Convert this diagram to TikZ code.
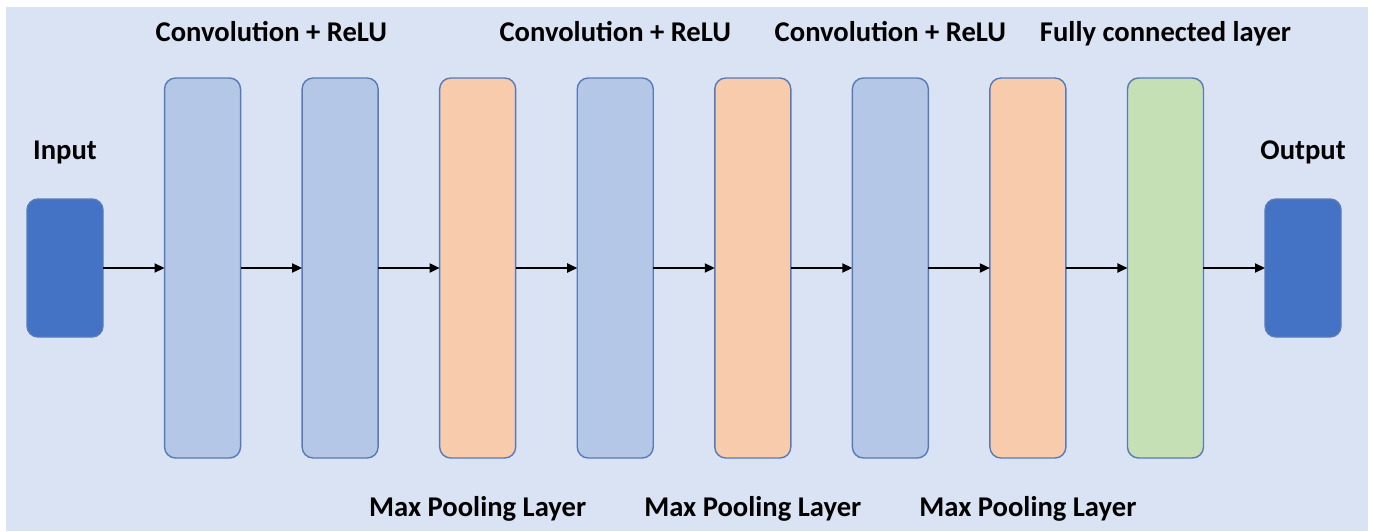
\documentclass[tikz,border=0pt]{standalone}
\usepackage{fontspec}
\setmainfont{Carlito}
\usetikzlibrary{arrows.meta,positioning,calc}
\definecolor{panelbg}{RGB}{218,227,243}
\definecolor{convfill}{RGB}{180,199,231}
\definecolor{poolfill}{RGB}{248,203,173}
\definecolor{fcfill}{RGB}{197,224,180}
\definecolor{iofill}{RGB}{68,114,196}
\definecolor{boxline}{RGB}{88,122,184}

\begin{document}
\begin{tikzpicture}[x=0.5pt, y=-0.5pt,
      font=\fontsize{14.3}{17}\selectfont\bfseries,
      layer/.style={rectangle, rounded corners=5.5pt, draw=boxline, line width=0.7pt,
                    minimum width=38pt, minimum height=190pt, outer sep=0pt, inner sep=0pt},
      iobox/.style={layer, fill=iofill, minimum height=69pt},
      lbl/.style={text=black, inner sep=0pt, anchor=base}]
    \useasboundingbox (0,0) rectangle (1373,531);
    \fill[panelbg] (6,7) rectangle (1368,531);
    % input and the layer stack
    \node[iobox] (in) at (65,268) {};
    \node[layer, fill=convfill, right=30.78pt of in] (c1) {};
    \node[layer, fill=convfill, right=30.78pt of c1] (c2) {};
    \node[layer, fill=poolfill, right=30.78pt of c2] (p1) {};
    \node[layer, fill=convfill, right=30.78pt of p1] (c3) {};
    \node[layer, fill=poolfill, right=30.78pt of c3] (p2) {};
    \node[layer, fill=convfill, right=30.78pt of p2] (c4) {};
    \node[layer, fill=poolfill, right=30.78pt of c4] (p3) {};
    \node[layer, fill=fcfill,   right=30.78pt of p3] (fc) {};
    \node[iobox, right=30.78pt of fc] (out) {};
    % labels
    \node[lbl] (lin)  at ($(in.north)+(0,-40)$) {Input};
    \node[lbl] (lout) at ($(out.north)+(0,-40)$) {Output};
    \node[lbl] (lc12) at ($(c1.north)!0.5!(c2.north)+(0,-37)$) {Convolution + ReLU};
    \node[lbl] (lc3)  at ($(c3.north)+(0,-37)$) {Convolution + ReLU};
    \node[lbl] (lc4)  at ($(c4.north)+(0,-37)$) {Convolution + ReLU};
    \node[lbl] (lfc)  at ($(fc.north)+(0,-37)$) {Fully connected layer};
    \node[lbl] (lp1)  at ($(p1.south)+(0,58)$) {Max Pooling Layer};
    \node[lbl] (lp2)  at ($(p2.south)+(0,58)$) {Max Pooling Layer};
    \node[lbl] (lp3)  at ($(p3.south)+(0,58)$) {Max Pooling Layer};
    % connectors
    \foreach \a/\b in {in/c1, c1/c2, c2/p1, p1/c3, c3/p2, p2/c4, c4/p3, p3/fc, fc/out}
      \draw[-{Triangle[length=5pt, width=4.5pt]}, line width=0.9pt, black] (\a) -- (\b);
  \end{tikzpicture}
\end{document}
